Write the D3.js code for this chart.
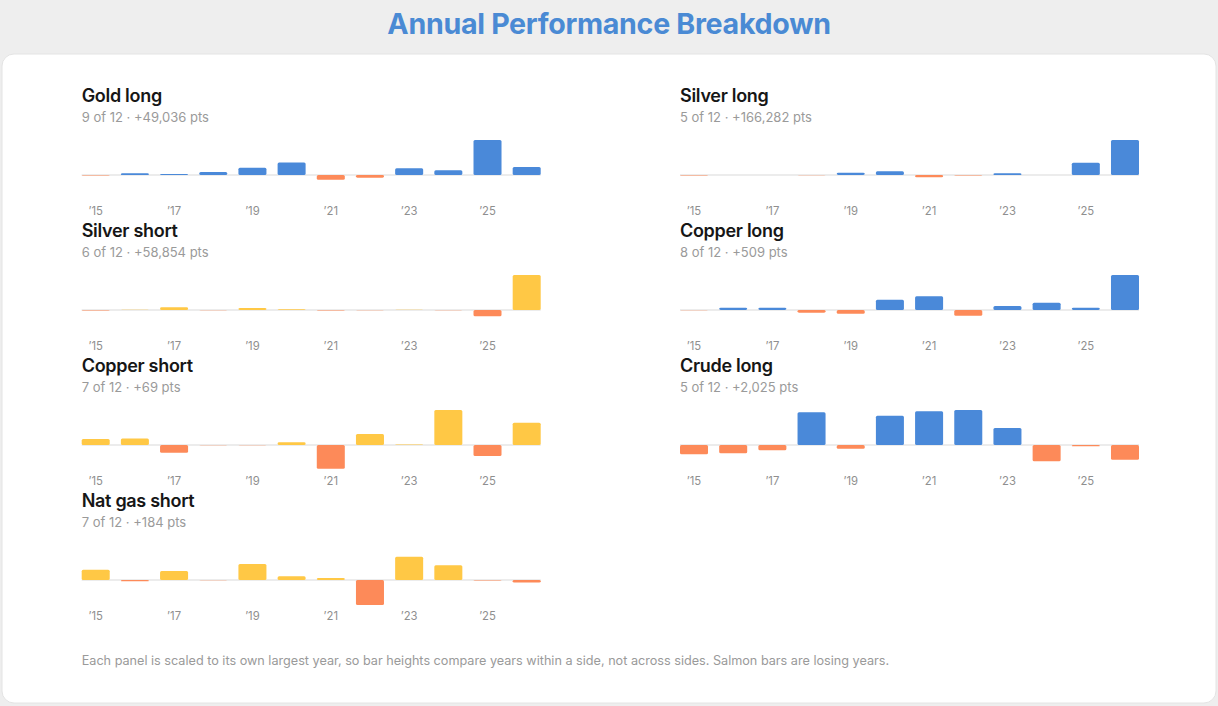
<!DOCTYPE html>
<html>
<head>
<meta charset="utf-8">
<script src="https://cdn.jsdelivr.net/npm/d3@7"></script>
<style>
  html, body { margin: 0; padding: 0; background: #eeeeee; }
  body { width: 1218px; height: 706px; overflow: hidden; font-family: Inter, "Noto Sans", sans-serif; }
</style>
</head>
<body>
<svg id="chart" width="1218" height="706"></svg>
<script>
// ---------- DATA ----------
const years = [2015, 2016, 2017, 2018, 2019, 2020, 2021, 2022, 2023, 2024, 2025, 2026];
const tickYears = [2015, 2017, 2019, 2021, 2023, 2025];

const panelNames = ["Gold long", "Silver long", "Silver short", "Copper long", "Copper short", "Crude long", "Nat gas short"];
const panelSides = ["long", "long", "short", "long", "short", "long", "short"];
const panelSubtitles = [
  "9 of 12 · +49,036 pts",
  "5 of 12 · +166,282 pts",
  "6 of 12 · +58,854 pts",
  "8 of 12 · +509 pts",
  "7 of 12 · +69 pts",
  "5 of 12 · +2,025 pts",
  "7 of 12 · +184 pts"
];

const goldLong    = [-350, 1150, 700, 2050, 5000, 8450, -3200, -1850, 4600, 3200, 23800, 5486];
const silverLong  = [-1500, -300, -200, -1200, 7500, 12000, -7500, -1600, 5500, -400, 40100, 113882];
const silverShort = [-900, 250, 4800, -300, 3600, 1200, -900, -250, 500, -350, -11200, 62404];
const copperLong  = [-2, 18, 18, -21, -29, 81, 108, -45, 31, 57, 18, 275];
const copperShort = [10, 11, -13, -0.3, -0.3, 4.5, -40, 18.5, 0.8, 58.8, -18.5, 37.5];
const crudeLong   = [-212, -189, -121, 746, -84, 668, 768, 798, 388, -372, -30, -335];
const natGasShort = [48, -6, 42, -1, 74, 17, 9, -162, 108, 68, -2, -11];

const panelValues = [goldLong, silverLong, silverShort, copperLong, copperShort, crudeLong, natGasShort];

const footnote = "Each panel is scaled to its own largest year, so bar heights compare years within a side, not across sides. Salmon bars are losing years.";
const chartTitle = "Annual Performance Breakdown";

// ---------- STYLE / LAYOUT ----------
const colors = { long: "#4a89d9", short: "#ffc845", loss: "#fd8a59" };
const W = 1218, H = 706;
const colX = [81.7, 680];
const panelW = 459;
const zeroY0 = 175, rowStep = 135;
const posH = 35, negH = 25;

const svg = d3.select("#chart");

// background card
svg.append("rect")
  .attr("x", 2).attr("y", 54).attr("width", W - 4).attr("height", 649)
  .attr("rx", 12).attr("ry", 12)
  .attr("fill", "#ffffff")
  .attr("stroke", "#e4e4e4").attr("stroke-width", 1);

// title
svg.append("text")
  .attr("x", W / 2).attr("y", 34)
  .attr("text-anchor", "middle")
  .attr("font-size", 28.6).attr("font-weight", 700)
  .attr("letter-spacing", -0.3)
  .attr("fill", "#4a8ad4")
  .text(chartTitle);

panelValues.forEach((vals, i) => {
  const col = i % 2, row = Math.floor(i / 2);
  const x0 = colX[col];
  const zeroY = zeroY0 + row * rowStep;
  const g = svg.append("g");

  const x = d3.scaleBand()
    .domain(years)
    .range([x0, x0 + panelW])
    .paddingInner(0.285)
    .paddingOuter(0);

  const maxAbs = d3.max(vals, v => Math.abs(v));
  const y = d3.scaleLinear()
    .domain([-maxAbs * negH / posH, maxAbs])
    .range([zeroY + negH, zeroY - posH])
    .clamp(true);

  // title + subtitle
  g.append("text")
    .attr("x", x0).attr("y", zeroY - 73)
    .attr("font-size", 18).attr("font-weight", 600)
    .attr("letter-spacing", -0.3)
    .attr("fill", "#161616")
    .text(panelNames[i]);
  g.append("text")
    .attr("x", x0).attr("y", zeroY - 53.5)
    .attr("font-size", 13).attr("font-weight", 400)
    .attr("fill", "#9a9a9a")
    .text(panelSubtitles[i]);

  // zero line
  g.append("line")
    .attr("x1", x0).attr("x2", x0 + panelW)
    .attr("y1", y(0)).attr("y2", y(0))
    .attr("stroke", "#d9d9d9").attr("stroke-width", 1);

  // bars
  g.selectAll("rect.bar")
    .data(vals.map((v, j) => ({ year: years[j], v })))
    .join("rect")
    .attr("class", "bar")
    .attr("x", d => x(d.year))
    .attr("width", x.bandwidth())
    .attr("y", d => Math.min(y(d.v), y(0)))
    .attr("height", d => Math.abs(y(d.v) - y(0)))
    .attr("rx", 1.5)
    .attr("fill", d => d.v >= 0 ? colors[panelSides[i]] : colors.loss);

  // x axis ticks (labels only)
  const axis = d3.axisBottom(x)
    .tickValues(tickYears)
    .tickSize(0)
    .tickPadding(0)
    .tickFormat(d => "\u2019" + String(d).slice(2));
  const ax = g.append("g")
    .attr("transform", `translate(0,${zeroY + 31.5})`)
    .call(axis);
  ax.select(".domain").remove();
  ax.selectAll("text")
    .attr("font-family", "Inter, 'Noto Sans', sans-serif")
    .attr("font-size", 11.3)
    .attr("fill", "#8f8f8f")
    .attr("dy", "0.71em");
});

// footnote
svg.append("text")
  .attr("x", 81.7).attr("y", 664.5)
  .attr("font-size", 12.65)
  .attr("fill", "#9a9a9a")
  .text(footnote);
</script>
</body>
</html>
